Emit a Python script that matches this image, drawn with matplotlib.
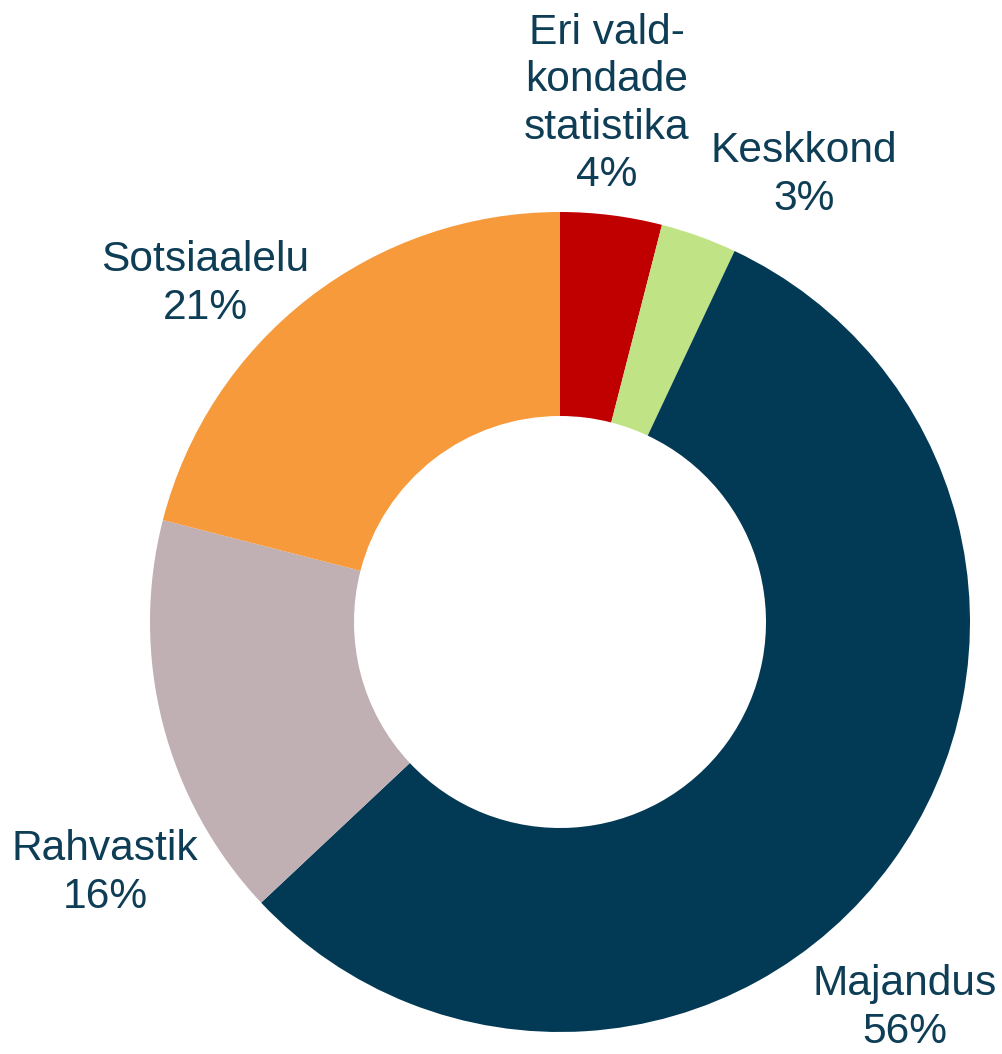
import matplotlib.pyplot as plt

plt.rcParams['font.family'] = ['Liberation Sans', 'DejaVu Sans']

# values, clockwise from 12 o'clock
categories = ['Eri vald-\nkondade\nstatistika', 'Keskkond', 'Majandus', 'Rahvastik', 'Sotsiaalelu']
shares = [4, 3, 56, 16, 21]
colors = ['#C00000', '#BFE385', '#023A55', '#C0AFB3', '#F79A3B']

# label centres in pixel coordinates (x, y from top)
label_pos = [(607, 104), (804, 175), (905, 1008), (105, 873), (205, 284)]

W, H = 1003, 1054
fig = plt.figure(figsize=(W / 100, H / 100), dpi=100)
ax = fig.add_axes([0, 0, 1, 1])

ax.pie(shares, colors=colors, startangle=90, counterclock=False,
       radius=410, center=(560, H - 622),
       wedgeprops=dict(width=204, linewidth=0))

for name, val, (px, py) in zip(categories, shares, label_pos):
    ax.text(px, H - py, f'{name}\n{val}%', ha='center', va='center',
            multialignment='center', fontsize=30.6, linespacing=1.24,
            color='#0E3D56')

ax.set_xlim(0, W)
ax.set_ylim(0, H)
ax.set_aspect('equal')
ax.axis('off')

plt.savefig('out.png', dpi=100)
